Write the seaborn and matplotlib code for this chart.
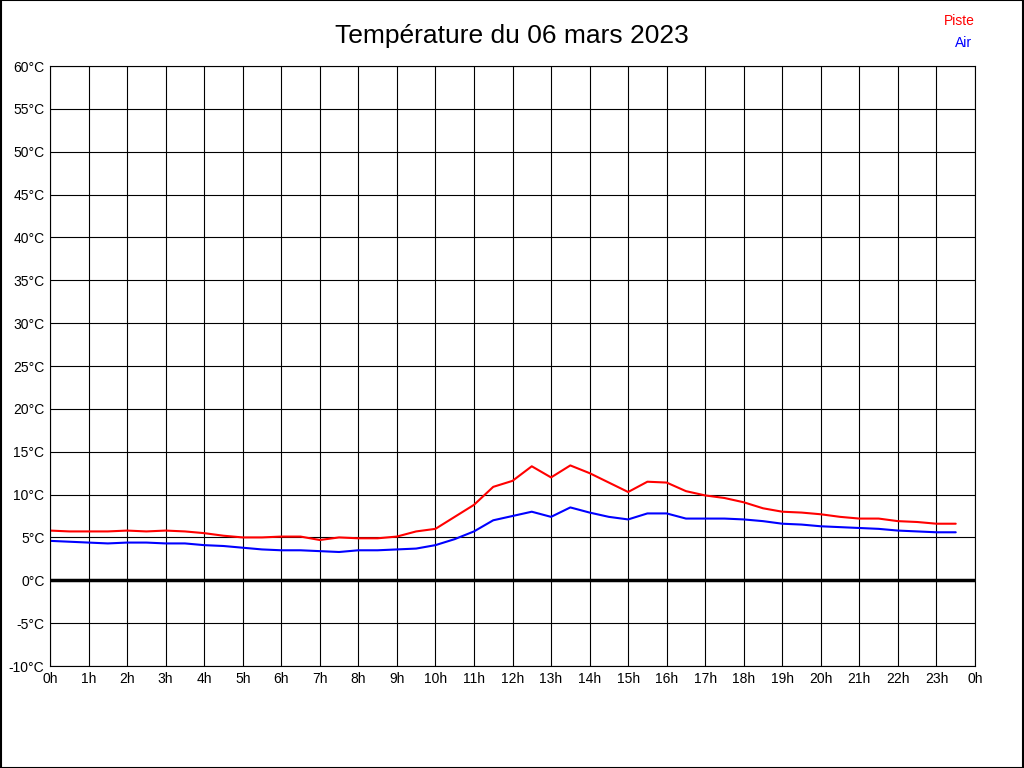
import numpy as np
import pandas as pd
import matplotlib
matplotlib.use('Agg')
import matplotlib.pyplot as plt
import seaborn as sns

hours = np.arange(0, 24, 0.5)
piste = [5.8, 5.7, 5.7, 5.7, 5.8, 5.7, 5.8, 5.7, 5.5, 5.2, 5.0, 5.0, 5.1, 5.1, 4.7, 5.0,
         4.9, 4.9, 5.1, 5.7, 6.0, 7.4, 8.8, 10.9, 11.6, 13.3, 12.0, 13.4, 12.5, 11.4, 10.3, 11.5,
         11.4, 10.4, 9.9, 9.6, 9.1, 8.4, 8.0, 7.9, 7.7, 7.4, 7.2, 7.2, 6.9, 6.8, 6.6, 6.6]
air = [4.6, 4.5, 4.4, 4.3, 4.4, 4.4, 4.3, 4.3, 4.1, 4.0, 3.8, 3.6, 3.5, 3.5, 3.4, 3.3,
       3.5, 3.5, 3.6, 3.7, 4.1, 4.8, 5.7, 7.0, 7.5, 8.0, 7.4, 8.5, 7.9, 7.4, 7.1, 7.8,
       7.8, 7.2, 7.2, 7.2, 7.1, 6.9, 6.6, 6.5, 6.3, 6.2, 6.1, 6.0, 5.8, 5.7, 5.6, 5.6]
xticks = list(range(25))
xlabels = [f"{h % 24}h" for h in xticks]
yticks = list(range(-10, 61, 5))
ylabels = [f"{v}°C" for v in yticks]

df = pd.DataFrame({'heure': hours, 'Piste': piste, 'Air': air})

sns.set_style('white')
plt.rcParams['font.family'] = ['Liberation Sans', 'DejaVu Sans']
plt.rcParams['text.color'] = 'black'
plt.rcParams['xtick.color'] = 'black'
plt.rcParams['ytick.color'] = 'black'

fig = plt.figure(figsize=(10.24, 7.68), dpi=100)
ax = fig.add_axes([50/1024, 1-666/768, 925/1024, 600/768])

sns.lineplot(data=df, x='heure', y='Piste', color='red', lw=1.5, ax=ax)
sns.lineplot(data=df, x='heure', y='Air', color='blue', lw=1.5, ax=ax)

ax.set_xlim(0, 24)
ax.set_ylim(-10, 60)
ax.set_xticks(xticks)
ax.set_xticklabels(xlabels, fontsize=10)
ax.set_yticks(yticks)
ax.set_yticklabels(ylabels, fontsize=10)
ax.grid(True, color='black', lw=0.8)
ax.set_axisbelow(True)
ax.axhline(0, color='black', lw=2.5)
ax.set_xlabel('')
ax.set_ylabel('')
ax.tick_params(length=0, pad=4)
for s in ax.spines.values():
    s.set_color('black')

fig.text(0.5, 1-36/768, 'Température du 06 mars 2023', ha='center', va='center', fontsize=19)
fig.text(975/1024, 1-21/768, 'Piste', color='red', ha='right', va='center', fontsize=10)
fig.text(972/1024, 1-43/768, 'Air', color='blue', ha='right', va='center', fontsize=10)
fig.patches.append(plt.Rectangle((0.0005, 0.0005), 0.999, 0.999, transform=fig.transFigure,
                                 fill=False, edgecolor='black', lw=1.5))

fig.savefig('out.png', dpi=100)
